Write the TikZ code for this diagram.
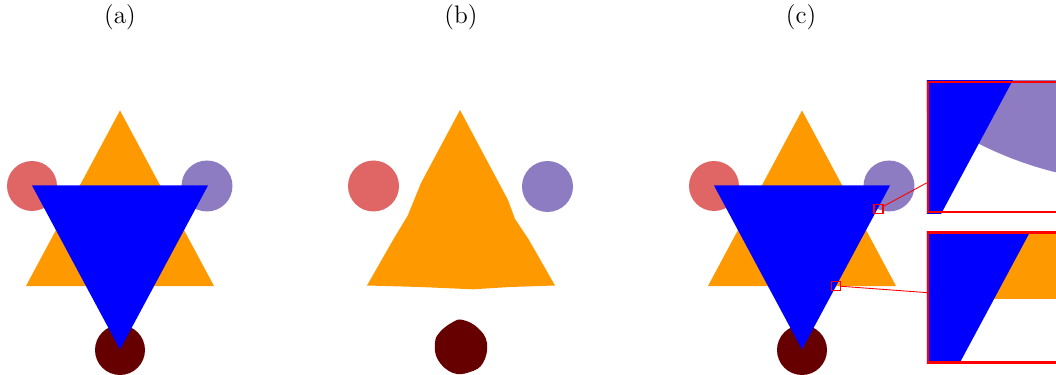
\documentclass[tikz,border=0pt]{standalone}
\usepackage{xcolor}
\usepackage{tikz}

% one scene, in pixels: x from the apex of the blue triangle, y from the top
\newcommand{\starscene}{%
    % Rouge clair
    \fill[fill={rgb,255:red,224;green,102;blue,102}] (-88,186) circle (25);
    % Violet
    \fill[fill={rgb,255:red,142;green,124;blue,195}] (87,186) circle (25.5);
    % Bordeaux
    \fill[fill={rgb,255:red,102;green,0;blue,0}] (0,350) circle (25);
    % Orange
    \fill[fill={rgb,255:red,255;green,153;blue,0}] (0,110.5) -- (-94,286) -- (94,286) -- cycle;
    % Bleu
    \fill[fill={rgb,255:red,0;green,0;blue,255}] (-88,185.5) -- (88,185.5) -- (0,349.5) -- cycle;
}

\begin{document}
\begin{tikzpicture}[x=0.02cm, y=-0.02cm]
    \useasboundingbox (0,0) rectangle (1056,375);

    % (a)
    \node (la) at (120,17) {\Large (a)};
    \begin{scope}[shift={(120,0)}]
        \starscene
    \end{scope}

    % (b)
    \node (lb) at (461,17) {\Large (b)};
    \fill[fill={rgb,255:red,224;green,102;blue,102}] (373.5,186) circle (25.5);
    \fill[fill={rgb,255:red,142;green,124;blue,195}] (547.5,186.5) circle (25.5);
    \fill[fill={rgb,255:red,102;green,0;blue,0}] plot[smooth cycle, tension=0.7] coordinates
        {(453,322) (463,320) (478,328) (487,343) (483,363) (470,372) (453,373) (438,360) (435,343) (440,332)};
    \fill[fill={rgb,255:red,255;green,153;blue,0}] (460,110) -- (421,183) -- (408,215) -- (393,240) -- (367,285.5)
        -- (420,287) -- (473,289.3) -- (510,287) -- (555,285.5) -- (529,240) -- (515,219) -- (508,200) -- cycle;

    % (c)
    \node (lc) at (801,17) {\Large (c)};
    \begin{scope}[shift={(802,0)}]
        \starscene
    \end{scope}

    % Loupes
    \node[draw=red, line width=0.6pt, minimum size=0.18cm, inner sep=0] (sqa) at (878.5,209) {};
    \node[draw=red, line width=0.6pt, minimum size=0.18cm, inner sep=0] (sqb) at (836,285.9) {};
    \node[minimum size=2.6cm, inner sep=0, line width=1.4pt] (zoma) at (993,147) {};
    \node[minimum size=2.6cm, inner sep=0, line width=1.4pt] (zomb) at (993,297.5) {};

    \begin{scope}
        \clip (zoma.south west) rectangle (zoma.north east);
        \begin{scope}[shift={(zoma.center)}, scale=14.44, shift={(-878.5,-209)}]
            \begin{scope}[shift={(802,0)}]
                \starscene
            \end{scope}
        \end{scope}
    \end{scope}
    \begin{scope}
        \clip (zomb.south west) rectangle (zomb.north east);
        \begin{scope}[shift={(zomb.center)}, scale=14.44, shift={(-836,-285.9)}]
            \begin{scope}[shift={(802,0)}]
                \starscene
            \end{scope}
        \end{scope}
    \end{scope}

    \node[draw=red, minimum size=2.6cm, inner sep=0, line width=1.4pt] at (zoma) {};
    \node[draw=red, minimum size=2.6cm, inner sep=0, line width=1.4pt] at (zomb) {};
    \draw[red, line width=0.5pt] (sqa) -- (zoma);
    \draw[red, line width=0.5pt] (sqb) -- (zomb);
\end{tikzpicture}
\end{document}
